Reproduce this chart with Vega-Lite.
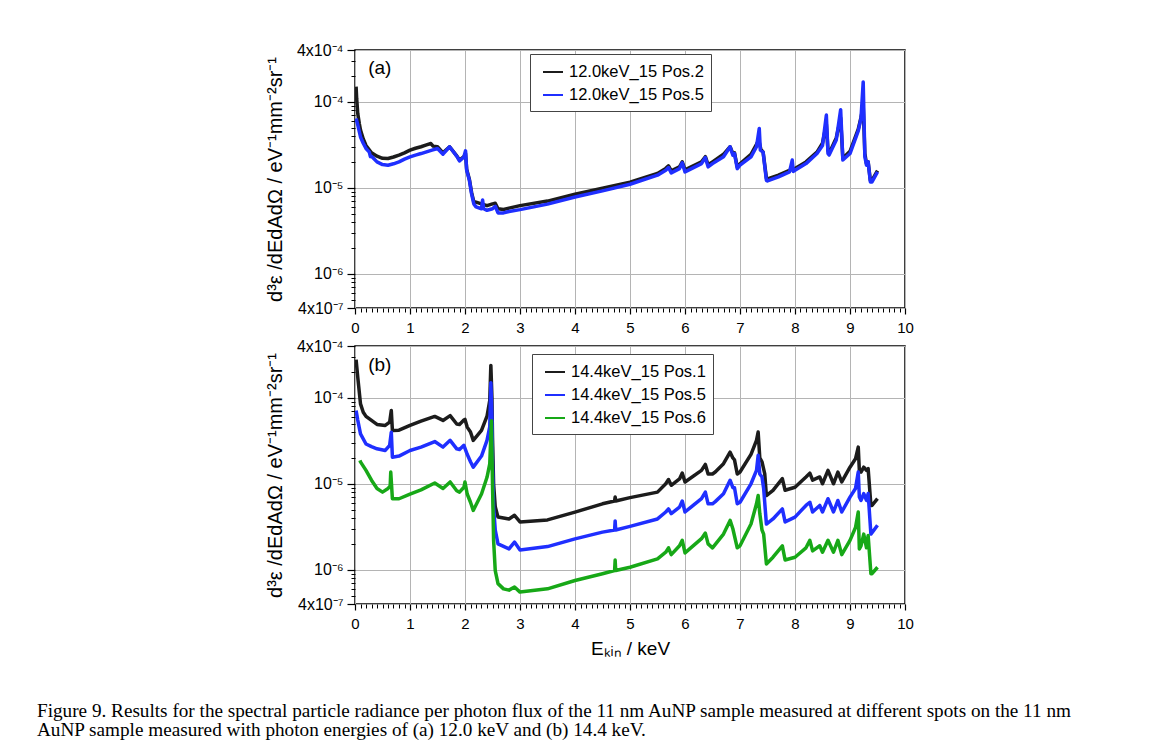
{
  "$schema": "https://vega.github.io/schema/vega-lite/v6.json",
  "padding": {"left": 37, "top": 41, "right": 5, "bottom": 5},
  "background": "white",
  "config": {
    "view": {"stroke": "black", "strokeWidth": 1.5},
    "font": "Liberation Sans",
    "concat": {"spacing": 38}
  },
  "datasets": {
    "a": [
      {"E":0.02,"v":1.5e-4,"s":"12.0keV_15 Pos.2"},{"E":0.03,"v":1.1e-4,"s":"12.0keV_15 Pos.2"},{"E":0.05,"v":7.3e-5,"s":"12.0keV_15 Pos.2"},{"E":0.08,"v":5.5e-5,"s":"12.0keV_15 Pos.2"},{"E":0.1,"v":4.7e-5,"s":"12.0keV_15 Pos.2"},{"E":0.15,"v":3.7e-5,"s":"12.0keV_15 Pos.2"},{"E":0.2,"v":3.1e-5,"s":"12.0keV_15 Pos.2"},{"E":0.3,"v":2.55e-5,"s":"12.0keV_15 Pos.2"},{"E":0.4,"v":2.33e-5,"s":"12.0keV_15 Pos.2"},{"E":0.5,"v":2.2e-5,"s":"12.0keV_15 Pos.2"},{"E":0.6,"v":2.19e-5,"s":"12.0keV_15 Pos.2"},{"E":0.7,"v":2.28e-5,"s":"12.0keV_15 Pos.2"},{"E":0.8,"v":2.4e-5,"s":"12.0keV_15 Pos.2"},{"E":0.9,"v":2.55e-5,"s":"12.0keV_15 Pos.2"},{"E":1.0,"v":2.74e-5,"s":"12.0keV_15 Pos.2"},{"E":1.1,"v":2.88e-5,"s":"12.0keV_15 Pos.2"},{"E":1.2,"v":3.0e-5,"s":"12.0keV_15 Pos.2"},{"E":1.3,"v":3.15e-5,"s":"12.0keV_15 Pos.2"},{"E":1.38,"v":3.27e-5,"s":"12.0keV_15 Pos.2"},{"E":1.42,"v":3.05e-5,"s":"12.0keV_15 Pos.2"},{"E":1.5,"v":3.0e-5,"s":"12.0keV_15 Pos.2"},{"E":1.6,"v":2.55e-5,"s":"12.0keV_15 Pos.2"},{"E":1.72,"v":3.0e-5,"s":"12.0keV_15 Pos.2"},{"E":1.85,"v":2.35e-5,"s":"12.0keV_15 Pos.2"},{"E":1.9,"v":2.1e-5,"s":"12.0keV_15 Pos.2"},{"E":1.98,"v":2.3e-5,"s":"12.0keV_15 Pos.2"},{"E":2.01,"v":2.5e-5,"s":"12.0keV_15 Pos.2"},{"E":2.03,"v":1.65e-5,"s":"12.0keV_15 Pos.2"},{"E":2.08,"v":1.25e-5,"s":"12.0keV_15 Pos.2"},{"E":2.12,"v":8.8e-6,"s":"12.0keV_15 Pos.2"},{"E":2.16,"v":6.9e-6,"s":"12.0keV_15 Pos.2"},{"E":2.2,"v":6.8e-6,"s":"12.0keV_15 Pos.2"},{"E":2.3,"v":6.5e-6,"s":"12.0keV_15 Pos.2"},{"E":2.4,"v":6.2e-6,"s":"12.0keV_15 Pos.2"},{"E":2.5,"v":6.5e-6,"s":"12.0keV_15 Pos.2"},{"E":2.55,"v":6.6e-6,"s":"12.0keV_15 Pos.2"},{"E":2.6,"v":5.7e-6,"s":"12.0keV_15 Pos.2"},{"E":2.7,"v":5.6e-6,"s":"12.0keV_15 Pos.2"},{"E":2.8,"v":5.8e-6,"s":"12.0keV_15 Pos.2"},{"E":3.0,"v":6.2e-6,"s":"12.0keV_15 Pos.2"},{"E":3.5,"v":7.0e-6,"s":"12.0keV_15 Pos.2"},{"E":4.0,"v":8.4e-6,"s":"12.0keV_15 Pos.2"},{"E":4.5,"v":9.9e-6,"s":"12.0keV_15 Pos.2"},{"E":5.0,"v":1.16e-5,"s":"12.0keV_15 Pos.2"},{"E":5.5,"v":1.47e-5,"s":"12.0keV_15 Pos.2"},{"E":5.65,"v":1.68e-5,"s":"12.0keV_15 Pos.2"},{"E":5.7,"v":1.8e-5,"s":"12.0keV_15 Pos.2"},{"E":5.75,"v":1.57e-5,"s":"12.0keV_15 Pos.2"},{"E":5.9,"v":1.75e-5,"s":"12.0keV_15 Pos.2"},{"E":5.95,"v":2.0e-5,"s":"12.0keV_15 Pos.2"},{"E":6.0,"v":1.62e-5,"s":"12.0keV_15 Pos.2"},{"E":6.3,"v":2.0e-5,"s":"12.0keV_15 Pos.2"},{"E":6.37,"v":2.3e-5,"s":"12.0keV_15 Pos.2"},{"E":6.42,"v":1.85e-5,"s":"12.0keV_15 Pos.2"},{"E":6.5,"v":2.0e-5,"s":"12.0keV_15 Pos.2"},{"E":6.7,"v":2.45e-5,"s":"12.0keV_15 Pos.2"},{"E":6.82,"v":3.0e-5,"s":"12.0keV_15 Pos.2"},{"E":6.87,"v":2.5e-5,"s":"12.0keV_15 Pos.2"},{"E":6.9,"v":2.55e-5,"s":"12.0keV_15 Pos.2"},{"E":6.95,"v":1.75e-5,"s":"12.0keV_15 Pos.2"},{"E":7.0,"v":1.9e-5,"s":"12.0keV_15 Pos.2"},{"E":7.2,"v":2.45e-5,"s":"12.0keV_15 Pos.2"},{"E":7.3,"v":3.2e-5,"s":"12.0keV_15 Pos.2"},{"E":7.34,"v":3.6e-5,"s":"12.0keV_15 Pos.2"},{"E":7.38,"v":2.8e-5,"s":"12.0keV_15 Pos.2"},{"E":7.42,"v":2.6e-5,"s":"12.0keV_15 Pos.2"},{"E":7.48,"v":1.3e-5,"s":"12.0keV_15 Pos.2"},{"E":7.5,"v":1.27e-5,"s":"12.0keV_15 Pos.2"},{"E":7.7,"v":1.4e-5,"s":"12.0keV_15 Pos.2"},{"E":7.95,"v":1.65e-5,"s":"12.0keV_15 Pos.2"},{"E":8.0,"v":1.68e-5,"s":"12.0keV_15 Pos.2"},{"E":8.2,"v":2.0e-5,"s":"12.0keV_15 Pos.2"},{"E":8.4,"v":2.6e-5,"s":"12.0keV_15 Pos.2"},{"E":8.5,"v":3.3e-5,"s":"12.0keV_15 Pos.2"},{"E":8.57,"v":5.5e-5,"s":"12.0keV_15 Pos.2"},{"E":8.6,"v":2.7e-5,"s":"12.0keV_15 Pos.2"},{"E":8.62,"v":2.5e-5,"s":"12.0keV_15 Pos.2"},{"E":8.75,"v":3.8e-5,"s":"12.0keV_15 Pos.2"},{"E":8.83,"v":6.5e-5,"s":"12.0keV_15 Pos.2"},{"E":8.87,"v":2.2e-5,"s":"12.0keV_15 Pos.2"},{"E":9.0,"v":2.65e-5,"s":"12.0keV_15 Pos.2"},{"E":9.15,"v":4.8e-5,"s":"12.0keV_15 Pos.2"},{"E":9.2,"v":6.6e-5,"s":"12.0keV_15 Pos.2"},{"E":9.24,"v":9.0e-5,"s":"12.0keV_15 Pos.2"},{"E":9.27,"v":2.5e-5,"s":"12.0keV_15 Pos.2"},{"E":9.3,"v":1.9e-5,"s":"12.0keV_15 Pos.2"},{"E":9.33,"v":2.0e-5,"s":"12.0keV_15 Pos.2"},{"E":9.37,"v":1.22e-5,"s":"12.0keV_15 Pos.2"},{"E":9.4,"v":1.22e-5,"s":"12.0keV_15 Pos.2"},{"E":9.5,"v":1.58e-5,"s":"12.0keV_15 Pos.2"},
      {"E":0.02,"v":6.4e-5,"s":"12.0keV_15 Pos.5"},{"E":0.05,"v":5.4e-5,"s":"12.0keV_15 Pos.5"},{"E":0.1,"v":3.9e-5,"s":"12.0keV_15 Pos.5"},{"E":0.15,"v":3.3e-5,"s":"12.0keV_15 Pos.5"},{"E":0.2,"v":2.86e-5,"s":"12.0keV_15 Pos.5"},{"E":0.26,"v":2.6e-5,"s":"12.0keV_15 Pos.5"},{"E":0.28,"v":2.3e-5,"s":"12.0keV_15 Pos.5"},{"E":0.3,"v":2.33e-5,"s":"12.0keV_15 Pos.5"},{"E":0.4,"v":2.0e-5,"s":"12.0keV_15 Pos.5"},{"E":0.5,"v":1.86e-5,"s":"12.0keV_15 Pos.5"},{"E":0.6,"v":1.83e-5,"s":"12.0keV_15 Pos.5"},{"E":0.7,"v":1.9e-5,"s":"12.0keV_15 Pos.5"},{"E":0.8,"v":2.0e-5,"s":"12.0keV_15 Pos.5"},{"E":0.9,"v":2.15e-5,"s":"12.0keV_15 Pos.5"},{"E":1.0,"v":2.29e-5,"s":"12.0keV_15 Pos.5"},{"E":1.1,"v":2.4e-5,"s":"12.0keV_15 Pos.5"},{"E":1.2,"v":2.5e-5,"s":"12.0keV_15 Pos.5"},{"E":1.3,"v":2.62e-5,"s":"12.0keV_15 Pos.5"},{"E":1.4,"v":2.74e-5,"s":"12.0keV_15 Pos.5"},{"E":1.5,"v":2.86e-5,"s":"12.0keV_15 Pos.5"},{"E":1.6,"v":2.46e-5,"s":"12.0keV_15 Pos.5"},{"E":1.72,"v":3.0e-5,"s":"12.0keV_15 Pos.5"},{"E":1.85,"v":2.33e-5,"s":"12.0keV_15 Pos.5"},{"E":1.9,"v":2.05e-5,"s":"12.0keV_15 Pos.5"},{"E":1.98,"v":2.28e-5,"s":"12.0keV_15 Pos.5"},{"E":2.01,"v":2.69e-5,"s":"12.0keV_15 Pos.5"},{"E":2.03,"v":1.6e-5,"s":"12.0keV_15 Pos.5"},{"E":2.08,"v":1.22e-5,"s":"12.0keV_15 Pos.5"},{"E":2.12,"v":8.5e-6,"s":"12.0keV_15 Pos.5"},{"E":2.16,"v":6.5e-6,"s":"12.0keV_15 Pos.5"},{"E":2.2,"v":6.0e-6,"s":"12.0keV_15 Pos.5"},{"E":2.3,"v":5.7e-6,"s":"12.0keV_15 Pos.5"},{"E":2.32,"v":7.2e-6,"s":"12.0keV_15 Pos.5"},{"E":2.34,"v":5.7e-6,"s":"12.0keV_15 Pos.5"},{"E":2.4,"v":5.47e-6,"s":"12.0keV_15 Pos.5"},{"E":2.5,"v":5.7e-6,"s":"12.0keV_15 Pos.5"},{"E":2.55,"v":6.1e-6,"s":"12.0keV_15 Pos.5"},{"E":2.6,"v":5.1e-6,"s":"12.0keV_15 Pos.5"},{"E":2.7,"v":5.1e-6,"s":"12.0keV_15 Pos.5"},{"E":2.8,"v":5.3e-6,"s":"12.0keV_15 Pos.5"},{"E":3.0,"v":5.57e-6,"s":"12.0keV_15 Pos.5"},{"E":3.5,"v":6.45e-6,"s":"12.0keV_15 Pos.5"},{"E":4.0,"v":7.8e-6,"s":"12.0keV_15 Pos.5"},{"E":4.5,"v":9.2e-6,"s":"12.0keV_15 Pos.5"},{"E":5.0,"v":1.1e-5,"s":"12.0keV_15 Pos.5"},{"E":5.5,"v":1.4e-5,"s":"12.0keV_15 Pos.5"},{"E":5.65,"v":1.6e-5,"s":"12.0keV_15 Pos.5"},{"E":5.7,"v":1.72e-5,"s":"12.0keV_15 Pos.5"},{"E":5.75,"v":1.49e-5,"s":"12.0keV_15 Pos.5"},{"E":5.9,"v":1.67e-5,"s":"12.0keV_15 Pos.5"},{"E":5.95,"v":1.95e-5,"s":"12.0keV_15 Pos.5"},{"E":6.0,"v":1.53e-5,"s":"12.0keV_15 Pos.5"},{"E":6.3,"v":1.91e-5,"s":"12.0keV_15 Pos.5"},{"E":6.37,"v":2.25e-5,"s":"12.0keV_15 Pos.5"},{"E":6.42,"v":1.75e-5,"s":"12.0keV_15 Pos.5"},{"E":6.5,"v":1.91e-5,"s":"12.0keV_15 Pos.5"},{"E":6.7,"v":2.3e-5,"s":"12.0keV_15 Pos.5"},{"E":6.82,"v":3.0e-5,"s":"12.0keV_15 Pos.5"},{"E":6.87,"v":2.4e-5,"s":"12.0keV_15 Pos.5"},{"E":6.9,"v":2.5e-5,"s":"12.0keV_15 Pos.5"},{"E":6.95,"v":1.67e-5,"s":"12.0keV_15 Pos.5"},{"E":7.0,"v":1.83e-5,"s":"12.0keV_15 Pos.5"},{"E":7.2,"v":2.29e-5,"s":"12.0keV_15 Pos.5"},{"E":7.3,"v":3.0e-5,"s":"12.0keV_15 Pos.5"},{"E":7.35,"v":4.9e-5,"s":"12.0keV_15 Pos.5"},{"E":7.37,"v":2.74e-5,"s":"12.0keV_15 Pos.5"},{"E":7.42,"v":2.6e-5,"s":"12.0keV_15 Pos.5"},{"E":7.48,"v":1.22e-5,"s":"12.0keV_15 Pos.5"},{"E":7.5,"v":1.2e-5,"s":"12.0keV_15 Pos.5"},{"E":7.7,"v":1.34e-5,"s":"12.0keV_15 Pos.5"},{"E":7.9,"v":1.53e-5,"s":"12.0keV_15 Pos.5"},{"E":7.95,"v":2.1e-5,"s":"12.0keV_15 Pos.5"},{"E":7.97,"v":1.55e-5,"s":"12.0keV_15 Pos.5"},{"E":8.0,"v":1.6e-5,"s":"12.0keV_15 Pos.5"},{"E":8.2,"v":1.91e-5,"s":"12.0keV_15 Pos.5"},{"E":8.4,"v":2.5e-5,"s":"12.0keV_15 Pos.5"},{"E":8.5,"v":3.1e-5,"s":"12.0keV_15 Pos.5"},{"E":8.57,"v":7.0e-5,"s":"12.0keV_15 Pos.5"},{"E":8.6,"v":2.5e-5,"s":"12.0keV_15 Pos.5"},{"E":8.62,"v":2.4e-5,"s":"12.0keV_15 Pos.5"},{"E":8.75,"v":3.6e-5,"s":"12.0keV_15 Pos.5"},{"E":8.83,"v":8.1e-5,"s":"12.0keV_15 Pos.5"},{"E":8.87,"v":2.1e-5,"s":"12.0keV_15 Pos.5"},{"E":9.0,"v":2.5e-5,"s":"12.0keV_15 Pos.5"},{"E":9.15,"v":4.6e-5,"s":"12.0keV_15 Pos.5"},{"E":9.2,"v":6.4e-5,"s":"12.0keV_15 Pos.5"},{"E":9.24,"v":1.7e-4,"s":"12.0keV_15 Pos.5"},{"E":9.27,"v":2.3e-5,"s":"12.0keV_15 Pos.5"},{"E":9.3,"v":1.83e-5,"s":"12.0keV_15 Pos.5"},{"E":9.33,"v":2.0e-5,"s":"12.0keV_15 Pos.5"},{"E":9.37,"v":1.17e-5,"s":"12.0keV_15 Pos.5"},{"E":9.4,"v":1.17e-5,"s":"12.0keV_15 Pos.5"},{"E":9.5,"v":1.53e-5,"s":"12.0keV_15 Pos.5"}
    ],
    "b": [
      {"E":0.02,"v":2.77e-4,"s":"14.4keV_15 Pos.1"},{"E":0.05,"v":1.74e-4,"s":"14.4keV_15 Pos.1"},{"E":0.1,"v":8.5e-5,"s":"14.4keV_15 Pos.1"},{"E":0.15,"v":6.8e-5,"s":"14.4keV_15 Pos.1"},{"E":0.2,"v":6.07e-5,"s":"14.4keV_15 Pos.1"},{"E":0.3,"v":5.45e-5,"s":"14.4keV_15 Pos.1"},{"E":0.4,"v":4.9e-5,"s":"14.4keV_15 Pos.1"},{"E":0.55,"v":4.77e-5,"s":"14.4keV_15 Pos.1"},{"E":0.63,"v":5.2e-5,"s":"14.4keV_15 Pos.1"},{"E":0.66,"v":7.1e-5,"s":"14.4keV_15 Pos.1"},{"E":0.68,"v":4.17e-5,"s":"14.4keV_15 Pos.1"},{"E":0.8,"v":4.2e-5,"s":"14.4keV_15 Pos.1"},{"E":1.0,"v":4.77e-5,"s":"14.4keV_15 Pos.1"},{"E":1.2,"v":5.35e-5,"s":"14.4keV_15 Pos.1"},{"E":1.45,"v":6.07e-5,"s":"14.4keV_15 Pos.1"},{"E":1.6,"v":5.45e-5,"s":"14.4keV_15 Pos.1"},{"E":1.73,"v":6.2e-5,"s":"14.4keV_15 Pos.1"},{"E":1.85,"v":4.96e-5,"s":"14.4keV_15 Pos.1"},{"E":1.9,"v":4.9e-5,"s":"14.4keV_15 Pos.1"},{"E":1.98,"v":5.5e-5,"s":"14.4keV_15 Pos.1"},{"E":2.0,"v":5.6e-5,"s":"14.4keV_15 Pos.1"},{"E":2.04,"v":4.56e-5,"s":"14.4keV_15 Pos.1"},{"E":2.1,"v":4.0e-5,"s":"14.4keV_15 Pos.1"},{"E":2.15,"v":3.2e-5,"s":"14.4keV_15 Pos.1"},{"E":2.3,"v":4.17e-5,"s":"14.4keV_15 Pos.1"},{"E":2.4,"v":6.1e-5,"s":"14.4keV_15 Pos.1"},{"E":2.45,"v":9.3e-5,"s":"14.4keV_15 Pos.1"},{"E":2.47,"v":2.38e-4,"s":"14.4keV_15 Pos.1"},{"E":2.49,"v":1.0e-4,"s":"14.4keV_15 Pos.1"},{"E":2.5,"v":3.5e-5,"s":"14.4keV_15 Pos.1"},{"E":2.52,"v":1.0e-5,"s":"14.4keV_15 Pos.1"},{"E":2.55,"v":5.4e-6,"s":"14.4keV_15 Pos.1"},{"E":2.6,"v":4.1e-6,"s":"14.4keV_15 Pos.1"},{"E":2.8,"v":3.9e-6,"s":"14.4keV_15 Pos.1"},{"E":2.9,"v":4.3e-6,"s":"14.4keV_15 Pos.1"},{"E":3.0,"v":3.6e-6,"s":"14.4keV_15 Pos.1"},{"E":3.5,"v":3.8e-6,"s":"14.4keV_15 Pos.1"},{"E":4.0,"v":4.68e-6,"s":"14.4keV_15 Pos.1"},{"E":4.5,"v":5.85e-6,"s":"14.4keV_15 Pos.1"},{"E":4.72,"v":6.3e-6,"s":"14.4keV_15 Pos.1"},{"E":4.73,"v":7.0e-6,"s":"14.4keV_15 Pos.1"},{"E":4.74,"v":6.3e-6,"s":"14.4keV_15 Pos.1"},{"E":5.0,"v":6.9e-6,"s":"14.4keV_15 Pos.1"},{"E":5.5,"v":8.0e-6,"s":"14.4keV_15 Pos.1"},{"E":5.65,"v":1.0e-5,"s":"14.4keV_15 Pos.1"},{"E":5.7,"v":1.12e-5,"s":"14.4keV_15 Pos.1"},{"E":5.75,"v":9.6e-6,"s":"14.4keV_15 Pos.1"},{"E":5.9,"v":1.14e-5,"s":"14.4keV_15 Pos.1"},{"E":5.95,"v":1.33e-5,"s":"14.4keV_15 Pos.1"},{"E":6.0,"v":1.05e-5,"s":"14.4keV_15 Pos.1"},{"E":6.3,"v":1.43e-5,"s":"14.4keV_15 Pos.1"},{"E":6.37,"v":1.68e-5,"s":"14.4keV_15 Pos.1"},{"E":6.42,"v":1.3e-5,"s":"14.4keV_15 Pos.1"},{"E":6.5,"v":1.3e-5,"s":"14.4keV_15 Pos.1"},{"E":6.55,"v":1.37e-5,"s":"14.4keV_15 Pos.1"},{"E":6.7,"v":1.71e-5,"s":"14.4keV_15 Pos.1"},{"E":6.82,"v":2.33e-5,"s":"14.4keV_15 Pos.1"},{"E":6.87,"v":2.0e-5,"s":"14.4keV_15 Pos.1"},{"E":6.9,"v":1.9e-5,"s":"14.4keV_15 Pos.1"},{"E":6.95,"v":1.3e-5,"s":"14.4keV_15 Pos.1"},{"E":7.0,"v":1.37e-5,"s":"14.4keV_15 Pos.1"},{"E":7.2,"v":2.2e-5,"s":"14.4keV_15 Pos.1"},{"E":7.3,"v":3.2e-5,"s":"14.4keV_15 Pos.1"},{"E":7.33,"v":4.0e-5,"s":"14.4keV_15 Pos.1"},{"E":7.36,"v":2.0e-5,"s":"14.4keV_15 Pos.1"},{"E":7.4,"v":1.8e-5,"s":"14.4keV_15 Pos.1"},{"E":7.45,"v":1.3e-5,"s":"14.4keV_15 Pos.1"},{"E":7.48,"v":7.3e-6,"s":"14.4keV_15 Pos.1"},{"E":7.6,"v":8.4e-6,"s":"14.4keV_15 Pos.1"},{"E":7.77,"v":1.15e-5,"s":"14.4keV_15 Pos.1"},{"E":7.82,"v":8.4e-6,"s":"14.4keV_15 Pos.1"},{"E":8.0,"v":9.1e-6,"s":"14.4keV_15 Pos.1"},{"E":8.2,"v":1.2e-5,"s":"14.4keV_15 Pos.1"},{"E":8.27,"v":1.33e-5,"s":"14.4keV_15 Pos.1"},{"E":8.32,"v":1.1e-5,"s":"14.4keV_15 Pos.1"},{"E":8.45,"v":1.2e-5,"s":"14.4keV_15 Pos.1"},{"E":8.5,"v":1.0e-5,"s":"14.4keV_15 Pos.1"},{"E":8.6,"v":1.43e-5,"s":"14.4keV_15 Pos.1"},{"E":8.7,"v":1.0e-5,"s":"14.4keV_15 Pos.1"},{"E":8.78,"v":1.37e-5,"s":"14.4keV_15 Pos.1"},{"E":8.85,"v":1.05e-5,"s":"14.4keV_15 Pos.1"},{"E":9.0,"v":1.56e-5,"s":"14.4keV_15 Pos.1"},{"E":9.1,"v":1.95e-5,"s":"14.4keV_15 Pos.1"},{"E":9.15,"v":2.67e-5,"s":"14.4keV_15 Pos.1"},{"E":9.17,"v":1.43e-5,"s":"14.4keV_15 Pos.1"},{"E":9.2,"v":1.37e-5,"s":"14.4keV_15 Pos.1"},{"E":9.25,"v":1.56e-5,"s":"14.4keV_15 Pos.1"},{"E":9.3,"v":1.43e-5,"s":"14.4keV_15 Pos.1"},{"E":9.33,"v":1.5e-5,"s":"14.4keV_15 Pos.1"},{"E":9.38,"v":5.6e-6,"s":"14.4keV_15 Pos.1"},{"E":9.4,"v":5.6e-6,"s":"14.4keV_15 Pos.1"},{"E":9.5,"v":6.7e-6,"s":"14.4keV_15 Pos.1"},
      {"E":0.02,"v":7.1e-5,"s":"14.4keV_15 Pos.5"},{"E":0.05,"v":5.5e-5,"s":"14.4keV_15 Pos.5"},{"E":0.1,"v":3.8e-5,"s":"14.4keV_15 Pos.5"},{"E":0.2,"v":2.9e-5,"s":"14.4keV_15 Pos.5"},{"E":0.3,"v":2.7e-5,"s":"14.4keV_15 Pos.5"},{"E":0.4,"v":2.55e-5,"s":"14.4keV_15 Pos.5"},{"E":0.55,"v":2.44e-5,"s":"14.4keV_15 Pos.5"},{"E":0.63,"v":2.8e-5,"s":"14.4keV_15 Pos.5"},{"E":0.66,"v":3.98e-5,"s":"14.4keV_15 Pos.5"},{"E":0.68,"v":2.04e-5,"s":"14.4keV_15 Pos.5"},{"E":0.8,"v":2.1e-5,"s":"14.4keV_15 Pos.5"},{"E":1.0,"v":2.44e-5,"s":"14.4keV_15 Pos.5"},{"E":1.2,"v":2.67e-5,"s":"14.4keV_15 Pos.5"},{"E":1.45,"v":3.1e-5,"s":"14.4keV_15 Pos.5"},{"E":1.6,"v":2.67e-5,"s":"14.4keV_15 Pos.5"},{"E":1.73,"v":3.2e-5,"s":"14.4keV_15 Pos.5"},{"E":1.85,"v":2.55e-5,"s":"14.4keV_15 Pos.5"},{"E":1.9,"v":2.5e-5,"s":"14.4keV_15 Pos.5"},{"E":1.98,"v":2.8e-5,"s":"14.4keV_15 Pos.5"},{"E":2.04,"v":2.2e-5,"s":"14.4keV_15 Pos.5"},{"E":2.1,"v":1.8e-5,"s":"14.4keV_15 Pos.5"},{"E":2.15,"v":1.56e-5,"s":"14.4keV_15 Pos.5"},{"E":2.3,"v":2.1e-5,"s":"14.4keV_15 Pos.5"},{"E":2.4,"v":3.2e-5,"s":"14.4keV_15 Pos.5"},{"E":2.45,"v":4.6e-5,"s":"14.4keV_15 Pos.5"},{"E":2.47,"v":1.5e-4,"s":"14.4keV_15 Pos.5"},{"E":2.49,"v":6.0e-5,"s":"14.4keV_15 Pos.5"},{"E":2.5,"v":1.7e-5,"s":"14.4keV_15 Pos.5"},{"E":2.52,"v":5.4e-6,"s":"14.4keV_15 Pos.5"},{"E":2.55,"v":2.9e-6,"s":"14.4keV_15 Pos.5"},{"E":2.6,"v":2.0e-6,"s":"14.4keV_15 Pos.5"},{"E":2.8,"v":1.75e-6,"s":"14.4keV_15 Pos.5"},{"E":2.9,"v":2.1e-6,"s":"14.4keV_15 Pos.5"},{"E":3.0,"v":1.7e-6,"s":"14.4keV_15 Pos.5"},{"E":3.5,"v":1.86e-6,"s":"14.4keV_15 Pos.5"},{"E":4.0,"v":2.29e-6,"s":"14.4keV_15 Pos.5"},{"E":4.5,"v":2.74e-6,"s":"14.4keV_15 Pos.5"},{"E":4.72,"v":2.9e-6,"s":"14.4keV_15 Pos.5"},{"E":4.73,"v":3.7e-6,"s":"14.4keV_15 Pos.5"},{"E":4.74,"v":2.9e-6,"s":"14.4keV_15 Pos.5"},{"E":5.0,"v":3.2e-6,"s":"14.4keV_15 Pos.5"},{"E":5.5,"v":3.9e-6,"s":"14.4keV_15 Pos.5"},{"E":5.65,"v":4.7e-6,"s":"14.4keV_15 Pos.5"},{"E":5.7,"v":5.1e-6,"s":"14.4keV_15 Pos.5"},{"E":5.75,"v":4.5e-6,"s":"14.4keV_15 Pos.5"},{"E":5.9,"v":5.35e-6,"s":"14.4keV_15 Pos.5"},{"E":5.95,"v":6.3e-6,"s":"14.4keV_15 Pos.5"},{"E":6.0,"v":4.7e-6,"s":"14.4keV_15 Pos.5"},{"E":6.3,"v":6.7e-6,"s":"14.4keV_15 Pos.5"},{"E":6.37,"v":8.0e-6,"s":"14.4keV_15 Pos.5"},{"E":6.42,"v":5.85e-6,"s":"14.4keV_15 Pos.5"},{"E":6.5,"v":5.85e-6,"s":"14.4keV_15 Pos.5"},{"E":6.55,"v":6.2e-6,"s":"14.4keV_15 Pos.5"},{"E":6.7,"v":7.65e-6,"s":"14.4keV_15 Pos.5"},{"E":6.82,"v":1.1e-5,"s":"14.4keV_15 Pos.5"},{"E":6.87,"v":9.0e-6,"s":"14.4keV_15 Pos.5"},{"E":6.9,"v":9.0e-6,"s":"14.4keV_15 Pos.5"},{"E":6.95,"v":5.85e-6,"s":"14.4keV_15 Pos.5"},{"E":7.0,"v":6.1e-6,"s":"14.4keV_15 Pos.5"},{"E":7.2,"v":1.0e-5,"s":"14.4keV_15 Pos.5"},{"E":7.3,"v":1.43e-5,"s":"14.4keV_15 Pos.5"},{"E":7.33,"v":2.14e-5,"s":"14.4keV_15 Pos.5"},{"E":7.36,"v":1.3e-5,"s":"14.4keV_15 Pos.5"},{"E":7.4,"v":1.2e-5,"s":"14.4keV_15 Pos.5"},{"E":7.43,"v":8.8e-6,"s":"14.4keV_15 Pos.5"},{"E":7.48,"v":3.4e-6,"s":"14.4keV_15 Pos.5"},{"E":7.6,"v":3.9e-6,"s":"14.4keV_15 Pos.5"},{"E":7.77,"v":5.1e-6,"s":"14.4keV_15 Pos.5"},{"E":7.82,"v":3.6e-6,"s":"14.4keV_15 Pos.5"},{"E":8.0,"v":4.1e-6,"s":"14.4keV_15 Pos.5"},{"E":8.2,"v":5.6e-6,"s":"14.4keV_15 Pos.5"},{"E":8.27,"v":6.1e-6,"s":"14.4keV_15 Pos.5"},{"E":8.32,"v":4.7e-6,"s":"14.4keV_15 Pos.5"},{"E":8.45,"v":5.6e-6,"s":"14.4keV_15 Pos.5"},{"E":8.5,"v":4.7e-6,"s":"14.4keV_15 Pos.5"},{"E":8.6,"v":6.7e-6,"s":"14.4keV_15 Pos.5"},{"E":8.7,"v":4.7e-6,"s":"14.4keV_15 Pos.5"},{"E":8.78,"v":6.4e-6,"s":"14.4keV_15 Pos.5"},{"E":8.85,"v":4.7e-6,"s":"14.4keV_15 Pos.5"},{"E":9.0,"v":7.0e-6,"s":"14.4keV_15 Pos.5"},{"E":9.1,"v":8.8e-6,"s":"14.4keV_15 Pos.5"},{"E":9.15,"v":1.37e-5,"s":"14.4keV_15 Pos.5"},{"E":9.17,"v":7.0e-6,"s":"14.4keV_15 Pos.5"},{"E":9.2,"v":6.4e-6,"s":"14.4keV_15 Pos.5"},{"E":9.25,"v":7.7e-6,"s":"14.4keV_15 Pos.5"},{"E":9.3,"v":6.4e-6,"s":"14.4keV_15 Pos.5"},{"E":9.33,"v":7.7e-6,"s":"14.4keV_15 Pos.5"},{"E":9.38,"v":2.6e-6,"s":"14.4keV_15 Pos.5"},{"E":9.4,"v":2.7e-6,"s":"14.4keV_15 Pos.5"},{"E":9.5,"v":3.3e-6,"s":"14.4keV_15 Pos.5"},
      {"E":0.09,"v":1.87e-5,"s":"14.4keV_15 Pos.6"},{"E":0.1,"v":1.8e-5,"s":"14.4keV_15 Pos.6"},{"E":0.2,"v":1.43e-5,"s":"14.4keV_15 Pos.6"},{"E":0.3,"v":1.1e-5,"s":"14.4keV_15 Pos.6"},{"E":0.4,"v":8.8e-6,"s":"14.4keV_15 Pos.6"},{"E":0.5,"v":8.0e-6,"s":"14.4keV_15 Pos.6"},{"E":0.6,"v":8.8e-6,"s":"14.4keV_15 Pos.6"},{"E":0.64,"v":9.5e-6,"s":"14.4keV_15 Pos.6"},{"E":0.65,"v":1.37e-5,"s":"14.4keV_15 Pos.6"},{"E":0.68,"v":6.7e-6,"s":"14.4keV_15 Pos.6"},{"E":0.8,"v":6.7e-6,"s":"14.4keV_15 Pos.6"},{"E":1.0,"v":7.6e-6,"s":"14.4keV_15 Pos.6"},{"E":1.2,"v":8.5e-6,"s":"14.4keV_15 Pos.6"},{"E":1.45,"v":1.02e-5,"s":"14.4keV_15 Pos.6"},{"E":1.6,"v":8.8e-6,"s":"14.4keV_15 Pos.6"},{"E":1.73,"v":1.05e-5,"s":"14.4keV_15 Pos.6"},{"E":1.85,"v":8.3e-6,"s":"14.4keV_15 Pos.6"},{"E":1.9,"v":8.0e-6,"s":"14.4keV_15 Pos.6"},{"E":1.98,"v":9.1e-6,"s":"14.4keV_15 Pos.6"},{"E":2.0,"v":1.05e-5,"s":"14.4keV_15 Pos.6"},{"E":2.04,"v":7.6e-6,"s":"14.4keV_15 Pos.6"},{"E":2.1,"v":6.1e-6,"s":"14.4keV_15 Pos.6"},{"E":2.15,"v":4.9e-6,"s":"14.4keV_15 Pos.6"},{"E":2.3,"v":7.6e-6,"s":"14.4keV_15 Pos.6"},{"E":2.4,"v":1.19e-5,"s":"14.4keV_15 Pos.6"},{"E":2.45,"v":1.7e-5,"s":"14.4keV_15 Pos.6"},{"E":2.48,"v":5.4e-5,"s":"14.4keV_15 Pos.6"},{"E":2.5,"v":1.0e-5,"s":"14.4keV_15 Pos.6"},{"E":2.52,"v":2.2e-6,"s":"14.4keV_15 Pos.6"},{"E":2.55,"v":9.8e-7,"s":"14.4keV_15 Pos.6"},{"E":2.6,"v":6.9e-7,"s":"14.4keV_15 Pos.6"},{"E":2.7,"v":6.0e-7,"s":"14.4keV_15 Pos.6"},{"E":2.8,"v":5.8e-7,"s":"14.4keV_15 Pos.6"},{"E":2.9,"v":6.3e-7,"s":"14.4keV_15 Pos.6"},{"E":3.0,"v":5.5e-7,"s":"14.4keV_15 Pos.6"},{"E":3.5,"v":6.0e-7,"s":"14.4keV_15 Pos.6"},{"E":4.0,"v":7.5e-7,"s":"14.4keV_15 Pos.6"},{"E":4.5,"v":9.0e-7,"s":"14.4keV_15 Pos.6"},{"E":4.72,"v":9.8e-7,"s":"14.4keV_15 Pos.6"},{"E":4.73,"v":1.3e-6,"s":"14.4keV_15 Pos.6"},{"E":4.74,"v":9.8e-7,"s":"14.4keV_15 Pos.6"},{"E":5.0,"v":1.07e-6,"s":"14.4keV_15 Pos.6"},{"E":5.5,"v":1.34e-6,"s":"14.4keV_15 Pos.6"},{"E":5.65,"v":1.6e-6,"s":"14.4keV_15 Pos.6"},{"E":5.7,"v":1.8e-6,"s":"14.4keV_15 Pos.6"},{"E":5.75,"v":1.5e-6,"s":"14.4keV_15 Pos.6"},{"E":5.9,"v":1.9e-6,"s":"14.4keV_15 Pos.6"},{"E":5.95,"v":2.2e-6,"s":"14.4keV_15 Pos.6"},{"E":6.0,"v":1.57e-6,"s":"14.4keV_15 Pos.6"},{"E":6.3,"v":2.3e-6,"s":"14.4keV_15 Pos.6"},{"E":6.37,"v":2.67e-6,"s":"14.4keV_15 Pos.6"},{"E":6.42,"v":2.0e-6,"s":"14.4keV_15 Pos.6"},{"E":6.5,"v":1.8e-6,"s":"14.4keV_15 Pos.6"},{"E":6.7,"v":2.6e-6,"s":"14.4keV_15 Pos.6"},{"E":6.82,"v":3.75e-6,"s":"14.4keV_15 Pos.6"},{"E":6.87,"v":3.0e-6,"s":"14.4keV_15 Pos.6"},{"E":6.95,"v":1.8e-6,"s":"14.4keV_15 Pos.6"},{"E":7.0,"v":1.9e-6,"s":"14.4keV_15 Pos.6"},{"E":7.2,"v":3.4e-6,"s":"14.4keV_15 Pos.6"},{"E":7.3,"v":5.85e-6,"s":"14.4keV_15 Pos.6"},{"E":7.33,"v":7.3e-6,"s":"14.4keV_15 Pos.6"},{"E":7.36,"v":4.5e-6,"s":"14.4keV_15 Pos.6"},{"E":7.4,"v":2.9e-6,"s":"14.4keV_15 Pos.6"},{"E":7.43,"v":2.6e-6,"s":"14.4keV_15 Pos.6"},{"E":7.48,"v":1.17e-6,"s":"14.4keV_15 Pos.6"},{"E":7.6,"v":1.4e-6,"s":"14.4keV_15 Pos.6"},{"E":7.77,"v":1.9e-6,"s":"14.4keV_15 Pos.6"},{"E":7.82,"v":1.3e-6,"s":"14.4keV_15 Pos.6"},{"E":8.0,"v":1.4e-6,"s":"14.4keV_15 Pos.6"},{"E":8.2,"v":1.8e-6,"s":"14.4keV_15 Pos.6"},{"E":8.27,"v":2.2e-6,"s":"14.4keV_15 Pos.6"},{"E":8.32,"v":1.66e-6,"s":"14.4keV_15 Pos.6"},{"E":8.45,"v":1.9e-6,"s":"14.4keV_15 Pos.6"},{"E":8.5,"v":1.6e-6,"s":"14.4keV_15 Pos.6"},{"E":8.6,"v":2.2e-6,"s":"14.4keV_15 Pos.6"},{"E":8.7,"v":1.6e-6,"s":"14.4keV_15 Pos.6"},{"E":8.78,"v":2.2e-6,"s":"14.4keV_15 Pos.6"},{"E":8.85,"v":1.5e-6,"s":"14.4keV_15 Pos.6"},{"E":9.0,"v":2.2e-6,"s":"14.4keV_15 Pos.6"},{"E":9.1,"v":3.1e-6,"s":"14.4keV_15 Pos.6"},{"E":9.15,"v":4.7e-6,"s":"14.4keV_15 Pos.6"},{"E":9.17,"v":1.75e-6,"s":"14.4keV_15 Pos.6"},{"E":9.2,"v":1.9e-6,"s":"14.4keV_15 Pos.6"},{"E":9.25,"v":2.6e-6,"s":"14.4keV_15 Pos.6"},{"E":9.3,"v":1.8e-6,"s":"14.4keV_15 Pos.6"},{"E":9.33,"v":2.5e-6,"s":"14.4keV_15 Pos.6"},{"E":9.38,"v":9.0e-7,"s":"14.4keV_15 Pos.6"},{"E":9.4,"v":9.0e-7,"s":"14.4keV_15 Pos.6"},{"E":9.5,"v":1.07e-6,"s":"14.4keV_15 Pos.6"}
    ]
  },
  "title": {
    "text": ["Figure 9. Results for the spectral particle radiance per photon flux of the 11 nm AuNP sample measured at different spots on the 11 nm", "AuNP sample measured with photon energies of (a) 12.0 keV and (b) 14.4 keV."],
    "orient": "bottom", "anchor": "start", "frame": "group",
    "font": "Liberation Serif", "fontSize": 19.2, "fontWeight": "normal", "color": "black", "lineHeight": 19.5,
    "dx": -318, "offset": 43
  },
  "resolve": {"scale": {"color": "independent"}, "legend": {"color": "independent"}},
  "bounds": "flush",
  "spacing": 38,
  "vconcat": [
    {
      "width": 550, "height": 258,
      "data": {"name": "a"},
      "layer": [
        {
          "mark": {"type": "line", "strokeWidth": 3.5, "strokeJoin": "round", "clip": true},
          "encoding": {
            "x": {"field": "E", "type": "quantitative",
              "scale": {"domain": [0, 10], "nice": false},
              "axis": {"orient": "bottom", "values": [0,1,2,3,4,5,6,7,8,9,10], "grid": true, "gridColor": "#b4b4b4", "gridWidth": 1, "domain": false, "tickSize": 6, "tickColor": "black", "tickWidth": 1.2, "labelFontSize": 15, "labelColor": "black", "labelPadding": 6, "labelFlush": false, "labelOverlap": false, "title": null}},
            "y": {"field": "v", "type": "quantitative",
              "scale": {"type": "log", "domain": [4e-7, 4e-4], "nice": false},
              "axis": {"orient": "left", "values": [4e-7, 1e-6, 1e-5, 1e-4, 4e-4], "grid": true, "gridColor": "#b4b4b4", "gridWidth": 1, "domain": false, "tickSize": 8, "tickColor": "black", "tickWidth": 1.2, "labelFontSize": 16, "labelColor": "black", "labelPadding": 4, "labelFlush": false, "labelOverlap": false,
                "labelExpr": "datum.value < 5e-7 ? '4x10⁻⁷' : datum.value < 2e-6 ? '10⁻⁶' : datum.value < 2e-5 ? '10⁻⁵' : datum.value < 2e-4 ? '10⁻⁴' : '4x10⁻⁴'",
                "title": "d³ε /dEdAdΩ / eV⁻¹mm⁻²sr⁻¹", "titleFontSize": 20, "titleFontWeight": "normal", "titleColor": "black", "titlePadding": 11}},
            "color": {"field": "s", "type": "nominal",
              "scale": {"domain": ["12.0keV_15 Pos.2", "12.0keV_15 Pos.5"], "range": ["#1c1c1c", "#1f2fff"]},
              "legend": {"orient": "none", "legendX": 175, "legendY": 4, "title": null, "symbolType": "stroke", "symbolSize": 400, "symbolStrokeWidth": 2, "labelFontSize": 16.5, "labelColor": "black", "padding": 7, "strokeColor": "#444", "fillColor": "white", "rowPadding": 3, "symbolOffset": 5, "labelOffset": 5}}
          }
        },
        {
          "data": {"values": [{}]},
          "mark": {"type": "text", "fontSize": 19, "color": "black"},
          "encoding": {
            "x": {"datum": 0.45, "axis": {"orient": "bottom", "values": [0.1,0.2,0.3,0.4,0.5,0.6,0.7,0.8,0.9,1.1,1.2,1.3,1.4,1.5,1.6,1.7,1.8,1.9,2.1,2.2,2.3,2.4,2.5,2.6,2.7,2.8,2.9,3.1,3.2,3.3,3.4,3.5,3.6,3.7,3.8,3.9,4.1,4.2,4.3,4.4,4.5,4.6,4.7,4.8,4.9,5.1,5.2,5.3,5.4,5.5,5.6,5.7,5.8,5.9,6.1,6.2,6.3,6.4,6.5,6.6,6.7,6.8,6.9,7.1,7.2,7.3,7.4,7.5,7.6,7.7,7.8,7.9,8.1,8.2,8.3,8.4,8.5,8.6,8.7,8.8,8.9,9.1,9.2,9.3,9.4,9.5,9.6,9.7,9.8,9.9], "labels": false, "grid": false, "domain": false, "tickSize": 4, "tickColor": "black", "tickWidth": 1, "title": null}},
            "y": {"datum": 2.5e-4, "axis": {"orient": "left", "values": [5e-7,6e-7,7e-7,8e-7,9e-7,2e-6,3e-6,4e-6,5e-6,6e-6,7e-6,8e-6,9e-6,2e-5,3e-5,4e-5,5e-5,6e-5,7e-5,8e-5,9e-5,2e-4,3e-4], "labels": false, "grid": false, "domain": false, "tickSize": 4, "tickColor": "black", "tickWidth": 1, "title": null}},
            "text": {"value": "(a)"}
          }
        }
      ],
      "resolve": {"axis": {"x": "independent", "y": "independent"}}
    },
    {
      "width": 550, "height": 258,
      "data": {"name": "b"},
      "layer": [
        {
          "mark": {"type": "line", "strokeWidth": 3.5, "strokeJoin": "round", "clip": true},
          "encoding": {
            "x": {"field": "E", "type": "quantitative",
              "scale": {"domain": [0, 10], "nice": false},
              "axis": {"orient": "bottom", "values": [0,1,2,3,4,5,6,7,8,9,10], "grid": true, "gridColor": "#b4b4b4", "gridWidth": 1, "domain": false, "tickSize": 6, "tickColor": "black", "tickWidth": 1.2, "labelFontSize": 15, "labelColor": "black", "labelPadding": 6, "labelFlush": false, "labelOverlap": false,
                "title": "Eₖᵢₙ / keV", "titleFontSize": 19, "titleFontWeight": "normal", "titleColor": "black", "titlePadding": 8}},
            "y": {"field": "v", "type": "quantitative",
              "scale": {"type": "log", "domain": [4e-7, 4e-4], "nice": false},
              "axis": {"orient": "left", "values": [4e-7, 1e-6, 1e-5, 1e-4, 4e-4], "grid": true, "gridColor": "#b4b4b4", "gridWidth": 1, "domain": false, "tickSize": 8, "tickColor": "black", "tickWidth": 1.2, "labelFontSize": 16, "labelColor": "black", "labelPadding": 4, "labelFlush": false, "labelOverlap": false,
                "labelExpr": "datum.value < 5e-7 ? '4x10⁻⁷' : datum.value < 2e-6 ? '10⁻⁶' : datum.value < 2e-5 ? '10⁻⁵' : datum.value < 2e-4 ? '10⁻⁴' : '4x10⁻⁴'",
                "title": "d³ε /dEdAdΩ / eV⁻¹mm⁻²sr⁻¹", "titleFontSize": 20, "titleFontWeight": "normal", "titleColor": "black", "titlePadding": 11}},
            "color": {"field": "s", "type": "nominal",
              "scale": {"domain": ["14.4keV_15 Pos.1", "14.4keV_15 Pos.5", "14.4keV_15 Pos.6"], "range": ["#1c1c1c", "#1f2fff", "#17a817"]},
              "legend": {"orient": "none", "legendX": 177, "legendY": 8, "title": null, "symbolType": "stroke", "symbolSize": 400, "symbolStrokeWidth": 2, "labelFontSize": 16.5, "labelColor": "black", "padding": 7, "strokeColor": "#444", "fillColor": "white", "rowPadding": 3, "symbolOffset": 5, "labelOffset": 5}}
          }
        },
        {
          "data": {"values": [{}]},
          "mark": {"type": "text", "fontSize": 19, "color": "black"},
          "encoding": {
            "x": {"datum": 0.45, "axis": {"orient": "bottom", "values": [0.1,0.2,0.3,0.4,0.5,0.6,0.7,0.8,0.9,1.1,1.2,1.3,1.4,1.5,1.6,1.7,1.8,1.9,2.1,2.2,2.3,2.4,2.5,2.6,2.7,2.8,2.9,3.1,3.2,3.3,3.4,3.5,3.6,3.7,3.8,3.9,4.1,4.2,4.3,4.4,4.5,4.6,4.7,4.8,4.9,5.1,5.2,5.3,5.4,5.5,5.6,5.7,5.8,5.9,6.1,6.2,6.3,6.4,6.5,6.6,6.7,6.8,6.9,7.1,7.2,7.3,7.4,7.5,7.6,7.7,7.8,7.9,8.1,8.2,8.3,8.4,8.5,8.6,8.7,8.8,8.9,9.1,9.2,9.3,9.4,9.5,9.6,9.7,9.8,9.9], "labels": false, "grid": false, "domain": false, "tickSize": 4, "tickColor": "black", "tickWidth": 1, "title": null}},
            "y": {"datum": 2.4e-4, "axis": {"orient": "left", "values": [5e-7,6e-7,7e-7,8e-7,9e-7,2e-6,3e-6,4e-6,5e-6,6e-6,7e-6,8e-6,9e-6,2e-5,3e-5,4e-5,5e-5,6e-5,7e-5,8e-5,9e-5,2e-4,3e-4], "labels": false, "grid": false, "domain": false, "tickSize": 4, "tickColor": "black", "tickWidth": 1, "title": null}},
            "text": {"value": "(b)"}
          }
        }
      ],
      "resolve": {"axis": {"x": "independent", "y": "independent"}}
    }
  ]
}
